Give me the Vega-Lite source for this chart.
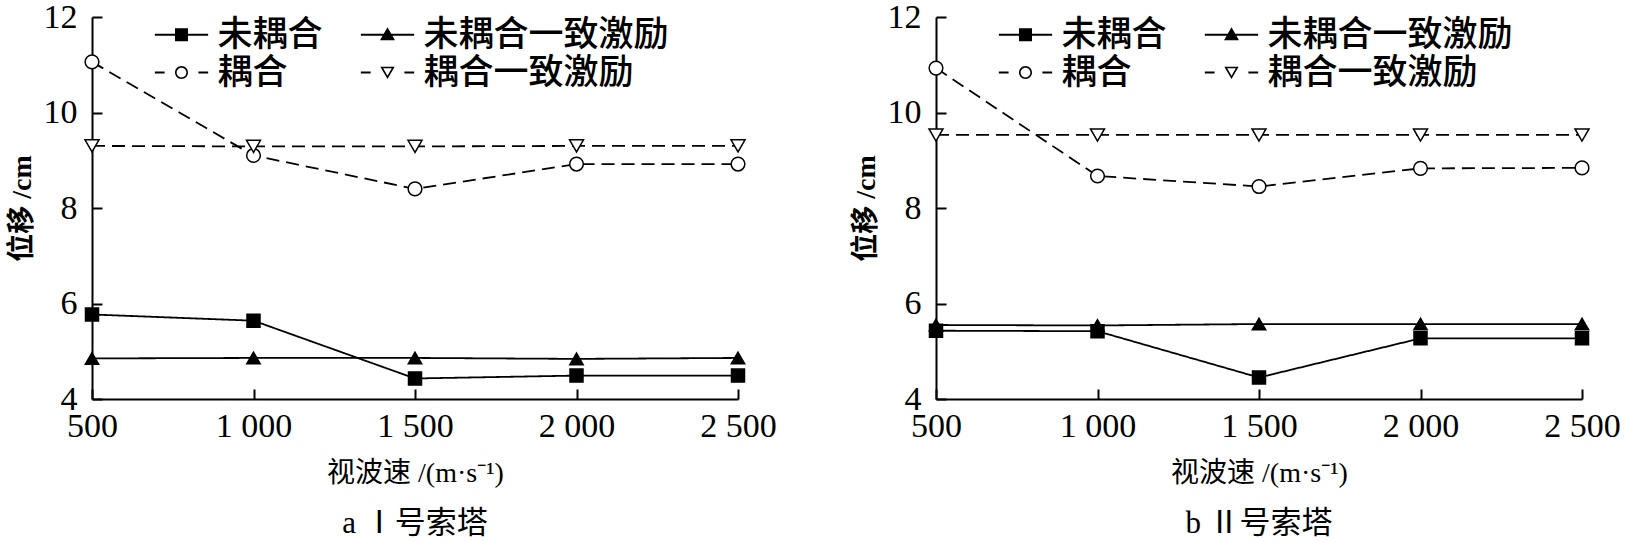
{
  "$schema": "https://vega.github.io/schema/vega-lite/v6.json",
  "background": "white",
  "padding": {"left": 8, "top": 0, "right": 0, "bottom": 0},
  "spacing": 75,
  "config": {
    "view": {"stroke": null},
    "axis": {
      "domainColor": "black", "domainWidth": 2, "tickColor": "black", "tickWidth": 2, "tickSize": -10,
      "grid": false, "labelColor": "black", "titleColor": "black",
      "labelFont": "Liberation Serif", "labelFontSize": 34,
      "titleFont": "Liberation Serif, Noto Sans CJK SC", "titleFontSize": 28, "titleFontWeight": "normal",
      "labelFlush": false, "labelOverlap": false
    },
    "legend": {
      "orient": "none", "legendX": 72, "legendY": 0, "columns": 2, "direction": "horizontal", "padding": 0,
      "labelFont": "Noto Sans CJK SC", "labelFontSize": 35, "labelFontWeight": 500, "labelColor": "black", "labelLimit": 500,
      "symbolSize": 169, "symbolStrokeWidth": 0, "symbolOpacity": 1, "symbolFillColor": "black", "labelOffset": 18.5, "columnPadding": 37, "rowPadding": 2
    },
    "title": {"font": "Liberation Serif, Noto Sans CJK SC", "fontSize": 31, "fontWeight": "normal", "color": "black", "anchor": "middle"}
  },
  "datasets": {
    "d": [
      {"p": "a", "s": "未耦合", "v": 500, "d": 5.77},
      {"p": "a", "s": "未耦合", "v": 1000, "d": 5.64},
      {"p": "a", "s": "未耦合", "v": 1500, "d": 4.43},
      {"p": "a", "s": "未耦合", "v": 2000, "d": 4.49},
      {"p": "a", "s": "未耦合", "v": 2500, "d": 4.49},
      {"p": "a", "s": "未耦合一致激励", "v": 500, "d": 4.85},
      {"p": "a", "s": "未耦合一致激励", "v": 1000, "d": 4.86},
      {"p": "a", "s": "未耦合一致激励", "v": 1500, "d": 4.86},
      {"p": "a", "s": "未耦合一致激励", "v": 2000, "d": 4.84},
      {"p": "a", "s": "未耦合一致激励", "v": 2500, "d": 4.86},
      {"p": "a", "s": "耦合", "v": 500, "d": 11.06},
      {"p": "a", "s": "耦合", "v": 1000, "d": 9.1},
      {"p": "a", "s": "耦合", "v": 1500, "d": 8.4},
      {"p": "a", "s": "耦合", "v": 2000, "d": 8.92},
      {"p": "a", "s": "耦合", "v": 2500, "d": 8.92},
      {"p": "a", "s": "耦合一致激励", "v": 500, "d": 9.3},
      {"p": "a", "s": "耦合一致激励", "v": 1000, "d": 9.29},
      {"p": "a", "s": "耦合一致激励", "v": 1500, "d": 9.29},
      {"p": "a", "s": "耦合一致激励", "v": 2000, "d": 9.3},
      {"p": "a", "s": "耦合一致激励", "v": 2500, "d": 9.3},
      {"p": "b", "s": "未耦合", "v": 500, "d": 5.43},
      {"p": "b", "s": "未耦合", "v": 1000, "d": 5.42},
      {"p": "b", "s": "未耦合", "v": 1500, "d": 4.45},
      {"p": "b", "s": "未耦合", "v": 2000, "d": 5.27},
      {"p": "b", "s": "未耦合", "v": 2500, "d": 5.27},
      {"p": "b", "s": "未耦合一致激励", "v": 500, "d": 5.55},
      {"p": "b", "s": "未耦合一致激励", "v": 1000, "d": 5.54},
      {"p": "b", "s": "未耦合一致激励", "v": 1500, "d": 5.57},
      {"p": "b", "s": "未耦合一致激励", "v": 2000, "d": 5.57},
      {"p": "b", "s": "未耦合一致激励", "v": 2500, "d": 5.57},
      {"p": "b", "s": "耦合", "v": 500, "d": 10.93},
      {"p": "b", "s": "耦合", "v": 1000, "d": 8.67},
      {"p": "b", "s": "耦合", "v": 1500, "d": 8.45},
      {"p": "b", "s": "耦合", "v": 2000, "d": 8.83},
      {"p": "b", "s": "耦合", "v": 2500, "d": 8.84},
      {"p": "b", "s": "耦合一致激励", "v": 500, "d": 9.53},
      {"p": "b", "s": "耦合一致激励", "v": 1000, "d": 9.53},
      {"p": "b", "s": "耦合一致激励", "v": 1500, "d": 9.53},
      {"p": "b", "s": "耦合一致激励", "v": 2000, "d": 9.53},
      {"p": "b", "s": "耦合一致激励", "v": 2500, "d": 9.53}
    ]
  },
  "hconcat": [
    {
      "width": 646, "height": 382,
      "title": {"text": "a Ⅰ号索塔", "orient": "bottom", "offset": 22},
      "data": {"name": "d"},
      "transform": [{"filter": "datum.p === 'a'"}],
      "encoding": {
        "x": {"field": "v", "type": "quantitative", "scale": {"domain": [500, 2500], "nice": false, "zero": false},
          "axis": {"values": [500, 1000, 1500, 2000, 2500], "labelExpr": "replace(format(datum.value, ','), ',', ' ')", "title": "视波速 /(m·s⁻¹)", "labelPadding": 20, "titlePadding": 16}},
        "y": {"field": "d", "type": "quantitative", "scale": {"domain": [4, 12], "nice": false, "zero": false},
          "axis": {"values": [4, 6, 8, 10, 12], "title": "位移 /cm", "labelPadding": 25, "titleX": -70, "titleBaseline": "middle", "titleFontWeight": "bold"}}
      },
      "layer": [
        {
          "mark": {"type": "line", "color": "black", "strokeWidth": 1.8},
          "encoding": {
            "strokeDash": {"field": "s", "type": "nominal", "scale": {"range": [[1, 0], [1, 0], [13, 7], [13, 7]]}, "legend": null}
          }
        },
        {
          "mark": {"type": "point", "filled": true, "stroke": "black", "strokeWidth": 1.5, "opacity": 1},
          "encoding": {
            "fill": {"field": "s", "type": "nominal", "scale": {"range": ["black", "black", "white", "white"]}, "legend": null},
            "size": {"field": "s", "type": "nominal", "scale": {"range": [169, 196, 169, 169]}, "legend": null},
            "shape": {"field": "s", "type": "nominal", "scale": {"range": ["square", "triangle-up", "circle", "triangle-down"]}, "legend": null}
          }
        },
        {
          "mark": {"type": "point", "filled": true, "color": "black", "strokeWidth": 0, "opacity": 0, "size": 169},
          "encoding": {
            "shape": {"field": "s", "type": "nominal",
              "scale": {"domain": ["未耦合", "未耦合一致激励", "耦合", "耦合一致激励"],
                "range": [
                  "M-4.1,-0.14H4.1V0.14H-4.1Z M-1,-1H1V1H-1Z",
                  "M-4.1,-0.14H4.1V0.14H-4.1Z M0,-1.15L1.15,0.85H-1.15Z",
                  "M-4.1,-0.14H-2.6V0.14H-4.1Z M2.6,-0.14H4.1V0.14H2.6Z M-1,0A1,1,0,1,1,1,0A1,1,0,1,1,-1,0Z M-0.75,0A0.75,0.75,0,1,0,0.75,0A0.75,0.75,0,1,0,-0.75,0Z",
                  "M-4.1,-0.14H-2.6V0.14H-4.1Z M2.6,-0.14H4.1V0.14H2.6Z M-1.1,-0.9H1.1L0,1Z M-0.667,-0.65L0,0.501L0.667,-0.65Z"
                ]},
              "legend": {"title": null}}
          }
        }
      ],
      "resolve": {"scale": {"shape": "independent"}, "legend": {"shape": "independent"}}
    },
    {
      "width": 646, "height": 382,
      "title": {"text": "b Ⅱ号索塔", "orient": "bottom", "offset": 22},
      "data": {"name": "d"},
      "transform": [{"filter": "datum.p === 'b'"}],
      "encoding": {
        "x": {"field": "v", "type": "quantitative", "scale": {"domain": [500, 2500], "nice": false, "zero": false},
          "axis": {"values": [500, 1000, 1500, 2000, 2500], "labelExpr": "replace(format(datum.value, ','), ',', ' ')", "title": "视波速 /(m·s⁻¹)", "labelPadding": 20, "titlePadding": 16}},
        "y": {"field": "d", "type": "quantitative", "scale": {"domain": [4, 12], "nice": false, "zero": false},
          "axis": {"values": [4, 6, 8, 10, 12], "title": "位移 /cm", "labelPadding": 25, "titleX": -70, "titleBaseline": "middle", "titleFontWeight": "bold"}}
      },
      "layer": [
        {
          "mark": {"type": "line", "color": "black", "strokeWidth": 1.8},
          "encoding": {
            "strokeDash": {"field": "s", "type": "nominal", "scale": {"range": [[1, 0], [1, 0], [13, 7], [13, 7]]}, "legend": null}
          }
        },
        {
          "mark": {"type": "point", "filled": true, "stroke": "black", "strokeWidth": 1.5, "opacity": 1},
          "encoding": {
            "fill": {"field": "s", "type": "nominal", "scale": {"range": ["black", "black", "white", "white"]}, "legend": null},
            "size": {"field": "s", "type": "nominal", "scale": {"range": [169, 196, 169, 169]}, "legend": null},
            "shape": {"field": "s", "type": "nominal", "scale": {"range": ["square", "triangle-up", "circle", "triangle-down"]}, "legend": null}
          }
        },
        {
          "mark": {"type": "point", "filled": true, "color": "black", "strokeWidth": 0, "opacity": 0, "size": 169},
          "encoding": {
            "shape": {"field": "s", "type": "nominal",
              "scale": {"domain": ["未耦合", "未耦合一致激励", "耦合", "耦合一致激励"],
                "range": [
                  "M-4.1,-0.14H4.1V0.14H-4.1Z M-1,-1H1V1H-1Z",
                  "M-4.1,-0.14H4.1V0.14H-4.1Z M0,-1.15L1.15,0.85H-1.15Z",
                  "M-4.1,-0.14H-2.6V0.14H-4.1Z M2.6,-0.14H4.1V0.14H2.6Z M-1,0A1,1,0,1,1,1,0A1,1,0,1,1,-1,0Z M-0.75,0A0.75,0.75,0,1,0,0.75,0A0.75,0.75,0,1,0,-0.75,0Z",
                  "M-4.1,-0.14H-2.6V0.14H-4.1Z M2.6,-0.14H4.1V0.14H2.6Z M-1.1,-0.9H1.1L0,1Z M-0.667,-0.65L0,0.501L0.667,-0.65Z"
                ]},
              "legend": {"title": null}}
          }
        }
      ],
      "resolve": {"scale": {"shape": "independent"}, "legend": {"shape": "independent"}}
    }
  ],
  "resolve": {"scale": {"x": "independent", "y": "independent", "shape": "independent", "fill": "independent", "size": "independent", "strokeDash": "independent"}, "legend": {"shape": "independent", "fill": "independent", "size": "independent", "strokeDash": "independent"}}
}
